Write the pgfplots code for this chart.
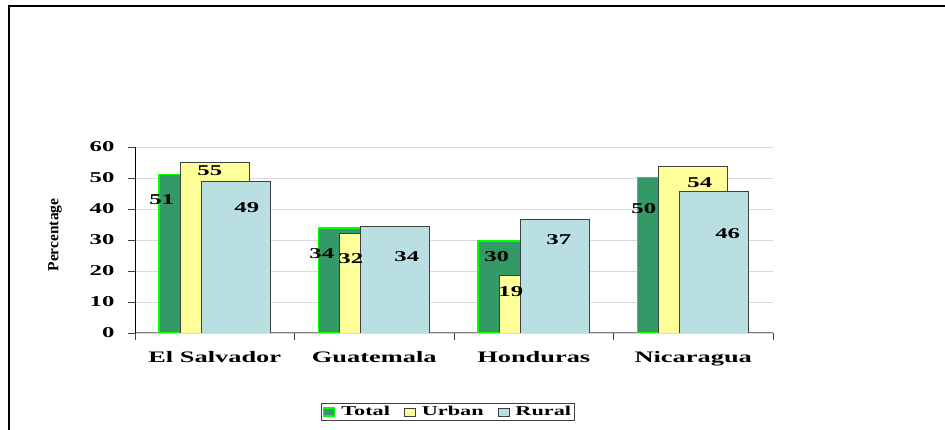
\documentclass[border=0pt]{standalone}
\usepackage{fontspec}
\setmainfont{Liberation Serif}[FakeStretch=1.65]
\newfontfamily\plainserif{Liberation Serif}
\usepackage{pgfplots}
\usepackage{pgfplotstable}
\pgfplotsset{compat=1.18}
\definecolor{totfill}{HTML}{339966}
\definecolor{totedge}{HTML}{00FF00}
\definecolor{urbfill}{HTML}{FFFF99}
\definecolor{rurfill}{HTML}{BADFE3}
\definecolor{edgegray}{HTML}{404040}
\definecolor{gridgray}{HTML}{D9D9D9}

% bar heights, categories at 0..3
\pgfplotstableread{
x total urban rural
0 51.2 55.0 49.0
1 33.8 32.2 34.3
2 29.7 18.6 36.7
3 50.1 53.9 45.7
}\bars

% value labels as placed in the original
\pgfplotstableread{
x y lab
-0.332 42.9 51
-0.031 52.3 55
0.201 40.6 49
0.671 25.5 34
0.853 23.9 32
1.204 24.8 34
1.768 24.5 30
1.856 13.2 19
2.157 30.0 37
2.690 40.0 50
3.041 48.4 54
3.216 31.9 46
}\labs

\begin{document}
\begin{tikzpicture}[x=1pt,y=1pt]
\useasboundingbox (-135,-97) rectangle (810,333);
\clip (-135,-97) rectangle (810,333);
\fill[white] (-135,-97) rectangle (810,333);
\draw[line width=2pt] (-126,-130) -- (-126,327) -- (830,327);
\begin{axis}[
  at={(0,0)}, anchor=south west,
  scale only axis, width=638pt, height=186pt,
  xmin=-0.5, xmax=3.5, ymin=0, ymax=60,
  axis x line*=bottom, axis y line*=left,
  x axis line style={-, gray, line width=1pt},
  y axis line style={-, black, line width=0.8pt},
  ytick={0,10,...,60},
  ymajorgrids, grid style={gridgray, line width=0.8pt},
  xtick={-0.5,0.5,1.5,2.5,3.5}, xticklabels={},
  extra x ticks={0,1,2,3},
  extra x tick labels={El Salvador,Guatemala,Honduras,Nicaragua},
  extra x tick style={major tick length=0pt},
  tick align=outside, major tick length=7pt,
  tick style={edgegray, line width=0.8pt},
  y tick label style={font=\fontsize{15}{15}\selectfont\bfseries, xshift=-10pt,
    /pgf/number format/assume math mode=true},
  x tick label style={font=\fontsize{16}{16}\selectfont\bfseries, yshift=-15pt},
  ylabel={\plainserif\bfseries Percentage},
  every axis y label/.style={at={(axis description cs:-0.1254,0.527)},
    rotate=90, anchor=center, font=\fontsize{15.5}{15.5}\selectfont},
  legend style={at={(0.4906,-0.4247)}, anchor=center, legend columns=3,
    draw=edgegray, line width=1pt, inner sep=1pt,
    font=\fontsize{13.5}{14}\selectfont\bfseries,
    /tikz/every odd column/.append style={column sep=4pt},
    /tikz/every even column/.append style={column sep=12pt}},
  legend image code/.code={\draw[#1] (0pt,-4pt) rectangle (11pt,4pt);},
]
\addplot[ybar, bar width=0.4326, bar shift=-0.1317, fill=totfill,
  draw=totedge, line width=1.5pt] table[x=x,y=total]{\bars};
\addlegendentry{Total}
\addplot[ybar, bar width=0.4326, bar shift=0, fill=urbfill,
  draw=edgegray, line width=0.8pt] table[x=x,y=urban]{\bars};
\addlegendentry{Urban}
\addplot[ybar, bar width=0.4326, bar shift=0.1317, fill=rurfill,
  draw=edgegray, line width=0.8pt] table[x=x,y=rural]{\bars};
\addlegendentry{Rural}
\addplot[draw=none, mark=none, forget plot,
  nodes near coords, point meta=explicit symbolic,
  every node near coord/.append style={anchor=center, inner sep=0pt,
    font=\fontsize{15}{15}\selectfont\bfseries}]
  table[x=x, y=y, meta=lab]{\labs};
\end{axis}
\end{tikzpicture}
\end{document}
